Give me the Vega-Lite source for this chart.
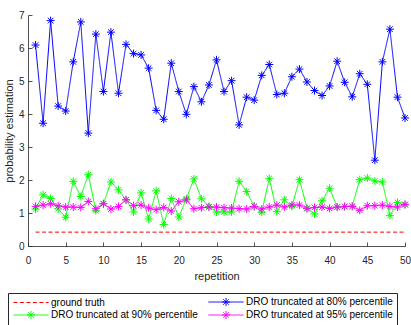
{
  "$schema": "https://vega.github.io/schema/vega-lite/v6.json",
  "width": 377,
  "height": 231,
  "autosize": {"type": "none"},
  "padding": {"left": 28, "top": 15, "right": 6, "bottom": 79},
  "background": "white",
  "config": {
    "view": {"stroke": null},
    "font": "Liberation Sans",
    "axis": {
      "domainColor": "#262626",
      "tickColor": "#262626",
      "labelColor": "#262626",
      "titleColor": "#262626",
      "labelFont": "Liberation Sans",
      "titleFont": "Liberation Sans",
      "labelFontSize": 10,
      "titleFontSize": 11,
      "titleFontWeight": "normal",
      "grid": false,
      "tickSize": -4,
      "domainWidth": 0.8,
      "tickWidth": 0.8
    },
    "legend": {
      "labelFont": "Liberation Sans",
      "labelFontSize": 10,
      "labelColor": "#000000"
    },
    "title": {"font": "Liberation Sans", "fontSize": 10, "fontWeight": "normal", "color": "#262626"}
  },
  "title": {"text": "×10⁻³", "anchor": "start", "frame": "group", "offset": 2, "baseline": "alphabetic"},
  "data": {
    "values": [
      {"rep": 1, "value": 0.42, "series": "ground truth"},
      {"rep": 50, "value": 0.42, "series": "ground truth"},
      {"rep": 1, "value": 6.09, "series": "DRO truncated at 80% percentile"},
      {"rep": 2, "value": 3.72, "series": "DRO truncated at 80% percentile"},
      {"rep": 3, "value": 6.83, "series": "DRO truncated at 80% percentile"},
      {"rep": 4, "value": 4.24, "series": "DRO truncated at 80% percentile"},
      {"rep": 5, "value": 4.09, "series": "DRO truncated at 80% percentile"},
      {"rep": 6, "value": 5.58, "series": "DRO truncated at 80% percentile"},
      {"rep": 7, "value": 6.79, "series": "DRO truncated at 80% percentile"},
      {"rep": 8, "value": 3.42, "series": "DRO truncated at 80% percentile"},
      {"rep": 9, "value": 6.42, "series": "DRO truncated at 80% percentile"},
      {"rep": 10, "value": 4.68, "series": "DRO truncated at 80% percentile"},
      {"rep": 11, "value": 6.48, "series": "DRO truncated at 80% percentile"},
      {"rep": 12, "value": 4.63, "series": "DRO truncated at 80% percentile"},
      {"rep": 13, "value": 6.11, "series": "DRO truncated at 80% percentile"},
      {"rep": 14, "value": 5.83, "series": "DRO truncated at 80% percentile"},
      {"rep": 15, "value": 5.79, "series": "DRO truncated at 80% percentile"},
      {"rep": 16, "value": 5.39, "series": "DRO truncated at 80% percentile"},
      {"rep": 17, "value": 4.11, "series": "DRO truncated at 80% percentile"},
      {"rep": 18, "value": 3.84, "series": "DRO truncated at 80% percentile"},
      {"rep": 19, "value": 5.54, "series": "DRO truncated at 80% percentile"},
      {"rep": 20, "value": 4.68, "series": "DRO truncated at 80% percentile"},
      {"rep": 21, "value": 3.99, "series": "DRO truncated at 80% percentile"},
      {"rep": 22, "value": 4.83, "series": "DRO truncated at 80% percentile"},
      {"rep": 23, "value": 4.37, "series": "DRO truncated at 80% percentile"},
      {"rep": 24, "value": 4.88, "series": "DRO truncated at 80% percentile"},
      {"rep": 25, "value": 5.64, "series": "DRO truncated at 80% percentile"},
      {"rep": 26, "value": 4.68, "series": "DRO truncated at 80% percentile"},
      {"rep": 27, "value": 5.01, "series": "DRO truncated at 80% percentile"},
      {"rep": 28, "value": 3.67, "series": "DRO truncated at 80% percentile"},
      {"rep": 29, "value": 4.51, "series": "DRO truncated at 80% percentile"},
      {"rep": 30, "value": 4.42, "series": "DRO truncated at 80% percentile"},
      {"rep": 31, "value": 5.17, "series": "DRO truncated at 80% percentile"},
      {"rep": 32, "value": 5.5, "series": "DRO truncated at 80% percentile"},
      {"rep": 33, "value": 4.59, "series": "DRO truncated at 80% percentile"},
      {"rep": 34, "value": 4.63, "series": "DRO truncated at 80% percentile"},
      {"rep": 35, "value": 5.13, "series": "DRO truncated at 80% percentile"},
      {"rep": 36, "value": 5.36, "series": "DRO truncated at 80% percentile"},
      {"rep": 37, "value": 4.97, "series": "DRO truncated at 80% percentile"},
      {"rep": 38, "value": 4.71, "series": "DRO truncated at 80% percentile"},
      {"rep": 39, "value": 4.56, "series": "DRO truncated at 80% percentile"},
      {"rep": 40, "value": 4.85, "series": "DRO truncated at 80% percentile"},
      {"rep": 41, "value": 5.6, "series": "DRO truncated at 80% percentile"},
      {"rep": 42, "value": 4.96, "series": "DRO truncated at 80% percentile"},
      {"rep": 43, "value": 4.52, "series": "DRO truncated at 80% percentile"},
      {"rep": 44, "value": 5.22, "series": "DRO truncated at 80% percentile"},
      {"rep": 45, "value": 4.9, "series": "DRO truncated at 80% percentile"},
      {"rep": 46, "value": 2.6, "series": "DRO truncated at 80% percentile"},
      {"rep": 47, "value": 5.58, "series": "DRO truncated at 80% percentile"},
      {"rep": 48, "value": 6.57, "series": "DRO truncated at 80% percentile"},
      {"rep": 49, "value": 4.51, "series": "DRO truncated at 80% percentile"},
      {"rep": 50, "value": 3.88, "series": "DRO truncated at 80% percentile"},
      {"rep": 1, "value": 1.12, "series": "DRO truncated at 90% percentile"},
      {"rep": 2, "value": 1.55, "series": "DRO truncated at 90% percentile"},
      {"rep": 3, "value": 1.44, "series": "DRO truncated at 90% percentile"},
      {"rep": 4, "value": 1.12, "series": "DRO truncated at 90% percentile"},
      {"rep": 5, "value": 0.87, "series": "DRO truncated at 90% percentile"},
      {"rep": 6, "value": 1.96, "series": "DRO truncated at 90% percentile"},
      {"rep": 7, "value": 1.5, "series": "DRO truncated at 90% percentile"},
      {"rep": 8, "value": 2.16, "series": "DRO truncated at 90% percentile"},
      {"rep": 9, "value": 1.07, "series": "DRO truncated at 90% percentile"},
      {"rep": 10, "value": 1.28, "series": "DRO truncated at 90% percentile"},
      {"rep": 11, "value": 1.94, "series": "DRO truncated at 90% percentile"},
      {"rep": 12, "value": 1.7, "series": "DRO truncated at 90% percentile"},
      {"rep": 13, "value": 1.4, "series": "DRO truncated at 90% percentile"},
      {"rep": 14, "value": 1.03, "series": "DRO truncated at 90% percentile"},
      {"rep": 15, "value": 1.61, "series": "DRO truncated at 90% percentile"},
      {"rep": 16, "value": 0.82, "series": "DRO truncated at 90% percentile"},
      {"rep": 17, "value": 1.67, "series": "DRO truncated at 90% percentile"},
      {"rep": 18, "value": 0.65, "series": "DRO truncated at 90% percentile"},
      {"rep": 19, "value": 1.44, "series": "DRO truncated at 90% percentile"},
      {"rep": 20, "value": 0.88, "series": "DRO truncated at 90% percentile"},
      {"rep": 21, "value": 1.43, "series": "DRO truncated at 90% percentile"},
      {"rep": 22, "value": 2.03, "series": "DRO truncated at 90% percentile"},
      {"rep": 23, "value": 1.43, "series": "DRO truncated at 90% percentile"},
      {"rep": 24, "value": 1.2, "series": "DRO truncated at 90% percentile"},
      {"rep": 25, "value": 1.03, "series": "DRO truncated at 90% percentile"},
      {"rep": 26, "value": 1.03, "series": "DRO truncated at 90% percentile"},
      {"rep": 27, "value": 1.03, "series": "DRO truncated at 90% percentile"},
      {"rep": 28, "value": 1.96, "series": "DRO truncated at 90% percentile"},
      {"rep": 29, "value": 1.65, "series": "DRO truncated at 90% percentile"},
      {"rep": 30, "value": 1.2, "series": "DRO truncated at 90% percentile"},
      {"rep": 31, "value": 1.02, "series": "DRO truncated at 90% percentile"},
      {"rep": 32, "value": 2.05, "series": "DRO truncated at 90% percentile"},
      {"rep": 33, "value": 1.04, "series": "DRO truncated at 90% percentile"},
      {"rep": 34, "value": 1.4, "series": "DRO truncated at 90% percentile"},
      {"rep": 35, "value": 1.2, "series": "DRO truncated at 90% percentile"},
      {"rep": 36, "value": 2.01, "series": "DRO truncated at 90% percentile"},
      {"rep": 37, "value": 1.15, "series": "DRO truncated at 90% percentile"},
      {"rep": 38, "value": 0.97, "series": "DRO truncated at 90% percentile"},
      {"rep": 39, "value": 1.37, "series": "DRO truncated at 90% percentile"},
      {"rep": 40, "value": 1.75, "series": "DRO truncated at 90% percentile"},
      {"rep": 41, "value": 1.18, "series": "DRO truncated at 90% percentile"},
      {"rep": 42, "value": 1.19, "series": "DRO truncated at 90% percentile"},
      {"rep": 43, "value": 1.21, "series": "DRO truncated at 90% percentile"},
      {"rep": 44, "value": 2.01, "series": "DRO truncated at 90% percentile"},
      {"rep": 45, "value": 2.06, "series": "DRO truncated at 90% percentile"},
      {"rep": 46, "value": 1.97, "series": "DRO truncated at 90% percentile"},
      {"rep": 47, "value": 1.94, "series": "DRO truncated at 90% percentile"},
      {"rep": 48, "value": 0.92, "series": "DRO truncated at 90% percentile"},
      {"rep": 49, "value": 1.32, "series": "DRO truncated at 90% percentile"},
      {"rep": 50, "value": 1.25, "series": "DRO truncated at 90% percentile"},
      {"rep": 1, "value": 1.2, "series": "DRO truncated at 95% percentile"},
      {"rep": 2, "value": 1.24, "series": "DRO truncated at 95% percentile"},
      {"rep": 3, "value": 1.28, "series": "DRO truncated at 95% percentile"},
      {"rep": 4, "value": 1.22, "series": "DRO truncated at 95% percentile"},
      {"rep": 5, "value": 1.18, "series": "DRO truncated at 95% percentile"},
      {"rep": 6, "value": 1.18, "series": "DRO truncated at 95% percentile"},
      {"rep": 7, "value": 1.17, "series": "DRO truncated at 95% percentile"},
      {"rep": 8, "value": 1.35, "series": "DRO truncated at 95% percentile"},
      {"rep": 9, "value": 1.13, "series": "DRO truncated at 95% percentile"},
      {"rep": 10, "value": 1.28, "series": "DRO truncated at 95% percentile"},
      {"rep": 11, "value": 1.12, "series": "DRO truncated at 95% percentile"},
      {"rep": 12, "value": 1.2, "series": "DRO truncated at 95% percentile"},
      {"rep": 13, "value": 1.4, "series": "DRO truncated at 95% percentile"},
      {"rep": 14, "value": 1.22, "series": "DRO truncated at 95% percentile"},
      {"rep": 15, "value": 1.24, "series": "DRO truncated at 95% percentile"},
      {"rep": 16, "value": 1.15, "series": "DRO truncated at 95% percentile"},
      {"rep": 17, "value": 1.1, "series": "DRO truncated at 95% percentile"},
      {"rep": 18, "value": 1.17, "series": "DRO truncated at 95% percentile"},
      {"rep": 19, "value": 1.06, "series": "DRO truncated at 95% percentile"},
      {"rep": 20, "value": 1.34, "series": "DRO truncated at 95% percentile"},
      {"rep": 21, "value": 1.4, "series": "DRO truncated at 95% percentile"},
      {"rep": 22, "value": 1.13, "series": "DRO truncated at 95% percentile"},
      {"rep": 23, "value": 1.16, "series": "DRO truncated at 95% percentile"},
      {"rep": 24, "value": 1.18, "series": "DRO truncated at 95% percentile"},
      {"rep": 25, "value": 1.18, "series": "DRO truncated at 95% percentile"},
      {"rep": 26, "value": 1.16, "series": "DRO truncated at 95% percentile"},
      {"rep": 27, "value": 1.15, "series": "DRO truncated at 95% percentile"},
      {"rep": 28, "value": 1.13, "series": "DRO truncated at 95% percentile"},
      {"rep": 29, "value": 1.12, "series": "DRO truncated at 95% percentile"},
      {"rep": 30, "value": 1.2, "series": "DRO truncated at 95% percentile"},
      {"rep": 31, "value": 1.12, "series": "DRO truncated at 95% percentile"},
      {"rep": 32, "value": 1.18, "series": "DRO truncated at 95% percentile"},
      {"rep": 33, "value": 1.24, "series": "DRO truncated at 95% percentile"},
      {"rep": 34, "value": 1.18, "series": "DRO truncated at 95% percentile"},
      {"rep": 35, "value": 1.24, "series": "DRO truncated at 95% percentile"},
      {"rep": 36, "value": 1.24, "series": "DRO truncated at 95% percentile"},
      {"rep": 37, "value": 1.13, "series": "DRO truncated at 95% percentile"},
      {"rep": 38, "value": 1.17, "series": "DRO truncated at 95% percentile"},
      {"rep": 39, "value": 1.18, "series": "DRO truncated at 95% percentile"},
      {"rep": 40, "value": 1.14, "series": "DRO truncated at 95% percentile"},
      {"rep": 41, "value": 1.18, "series": "DRO truncated at 95% percentile"},
      {"rep": 42, "value": 1.2, "series": "DRO truncated at 95% percentile"},
      {"rep": 43, "value": 1.2, "series": "DRO truncated at 95% percentile"},
      {"rep": 44, "value": 1.08, "series": "DRO truncated at 95% percentile"},
      {"rep": 45, "value": 1.22, "series": "DRO truncated at 95% percentile"},
      {"rep": 46, "value": 1.22, "series": "DRO truncated at 95% percentile"},
      {"rep": 47, "value": 1.24, "series": "DRO truncated at 95% percentile"},
      {"rep": 48, "value": 1.2, "series": "DRO truncated at 95% percentile"},
      {"rep": 49, "value": 1.18, "series": "DRO truncated at 95% percentile"},
      {"rep": 50, "value": 1.26, "series": "DRO truncated at 95% percentile"}
    ]
  },
  "encoding": {
    "x": {
      "field": "rep", "type": "quantitative",
      "scale": {"domain": [0, 50], "nice": false},
      "axis": {"values": [0, 5, 10, 15, 20, 25, 30, 35, 40, 45, 50], "title": "repetition", "labelPadding": 13, "titlePadding": 5, "labelFlush": false}
    },
    "y": {
      "field": "value", "type": "quantitative",
      "scale": {"domain": [0, 7], "nice": false},
      "axis": {"values": [0, 1, 2, 3, 4, 5, 6, 7], "title": "probability estimation", "labelPadding": 8, "titlePadding": 4, "labelFlush": false}
    },
    "color": {
      "field": "series", "type": "nominal",
      "scale": {
        "domain": ["ground truth", "DRO truncated at 80% percentile", "DRO truncated at 90% percentile", "DRO truncated at 95% percentile"],
        "range": ["#FF0000", "#0000FF", "#00FF00", "#FF00FF"]
      },
      "legend": {
        "title": null,
        "orient": "none",
        "legendX": -20,
        "legendY": 278,
        "direction": "horizontal",
        "columns": 2,
        "columnPadding": 8,
        "rowPadding": 1,
        "padding": 4,
        "strokeColor": "#262626",
        "fillColor": "white",
        "symbolSize": 64,
        "symbolStrokeWidth": 1,
        "symbolType": "stroke",
        "symbolOffset": 14,
        "labelOffset": 15,
        "encode": {
          "symbols": {
            "update": {
              "shape": {"signal": "datum.value === 'ground truth' ? 'M-4.4,0L4.4,0' : 'M-4.4,0L4.4,0M-1,0L1,0M0,-1L0,1M-0.7,-0.7L0.7,0.7M-0.7,0.7L0.7,-0.7'"},
              "strokeDash": {"signal": "datum.value === 'ground truth' ? [4, 2] : [1, 0]"},
              "fill": {"value": "transparent"},
              "opacity": {"value": 1}
            }
          }
        }
      }
    }
  },
  "layer": [
    {
      "mark": {"type": "line", "strokeWidth": 1},
      "encoding": {
        "strokeDash": {
          "field": "series", "type": "nominal",
          "scale": {
            "domain": ["ground truth", "DRO truncated at 80% percentile", "DRO truncated at 90% percentile", "DRO truncated at 95% percentile"],
            "range": [[4, 2.5], [1, 0], [1, 0], [1, 0]]
          },
          "legend": null
        }
      }
    },
    {
      "transform": [{"filter": "datum.series !== 'ground truth'"}],
      "mark": {
        "type": "point",
        "shape": "M-1,0L1,0M0,-1L0,1M-0.7,-0.7L0.7,0.7M-0.7,0.7L0.7,-0.7",
        "filled": false,
        "size": 64,
        "strokeWidth": 1,
        "opacity": 1
      }
    }
  ]
}
